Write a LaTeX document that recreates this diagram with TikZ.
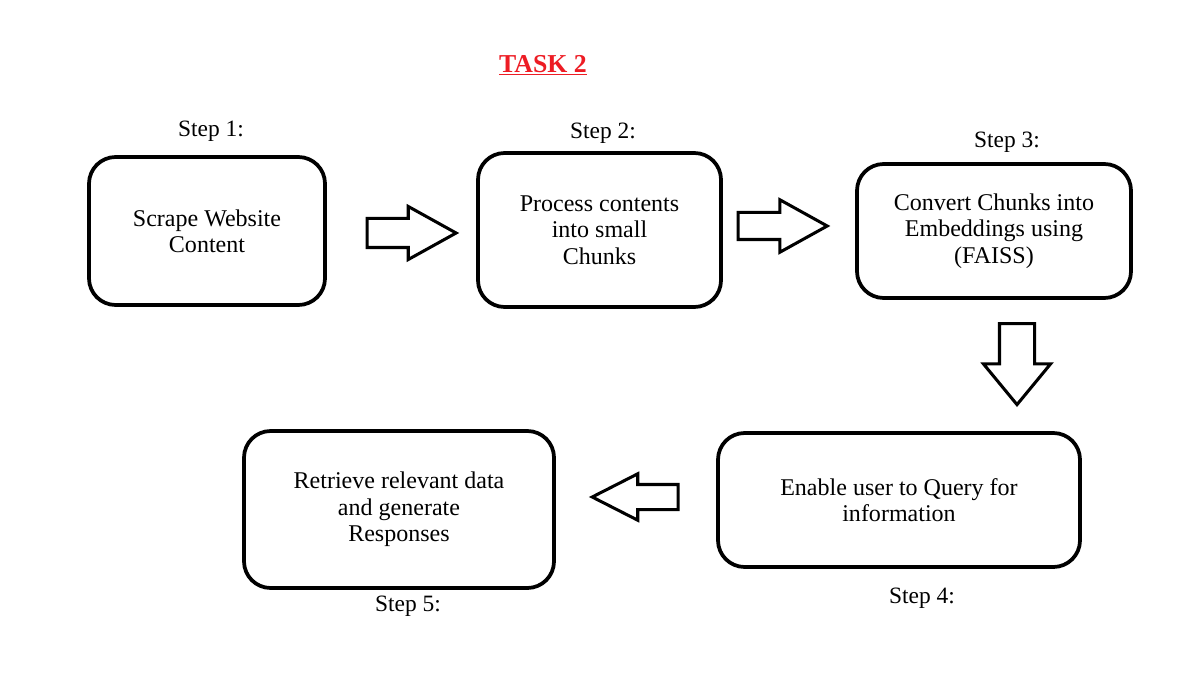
\documentclass[tikz,border=0pt]{standalone}
\usepackage{fontspec}
\setmainfont{Liberation Serif}
\usepackage{xcolor}
\usetikzlibrary{shapes.arrows}
\definecolor{taskred}{RGB}{237,28,36}

\tikzset{
  stepbox/.style={draw, line width=3.2pt, rounded corners=0.8cm, align=center,
    font=\fontsize{20.5}{22.5}\selectfont},
  steplabel/.style={font=\fontsize{20}{24}\selectfont},
  blockarrow/.style={draw, line width=2.6pt, single arrow, inner xsep=0pt,
    single arrow head indent=0pt},
}

\begin{document}
\begin{tikzpicture}[x=0.03cm, y=-0.03cm]
\useasboundingbox (0,0) rectangle (1183,683);

\node[font=\fontsize{22}{24}\selectfont\bfseries, text=taskred] (title) at (543,65) {\underline{TASK 2}};

\node[stepbox, minimum width=7.08cm, minimum height=4.44cm] (scrape) at (207,231) {Scrape Website\\Content};
\node[stepbox, minimum width=7.29cm, minimum height=4.62cm] (process) at (599.5,230) {Process contents\\into small\\Chunks};
\node[stepbox, minimum width=8.22cm, minimum height=4.02cm] (convert) at (994,231) {Convert Chunks into\\Embeddings using\\(FAISS)};
\node[stepbox, minimum width=10.86cm, minimum height=4.02cm] (query) at (899,500) {Enable user to Query for\\information};
\node[stepbox, minimum width=9.3cm, minimum height=4.71cm] (retrieve) at (399,509.5) {Retrieve relevant data\\and generate\\Responses};

\node[steplabel] (s1) at (211,131) {Step 1:};
\node[steplabel] (s2) at (603,133) {Step 2:};
\node[steplabel] (s3) at (1007,142) {Step 3:};
\node[steplabel] (s4) at (922,598) {Step 4:};
\node[steplabel] (s5) at (408,606) {Step 5:};

% block arrows between the steps
\node[blockarrow, minimum height=2.67cm, inner ysep=0.39cm,
  single arrow head extend=0.36cm, single arrow tip angle=58] (a12) at (398.5,233) {};
\node[blockarrow, minimum height=2.67cm, inner ysep=0.36cm,
  single arrow head extend=0.38cm, single arrow tip angle=58] (a23) at (770.5,226) {};
\node[blockarrow, rotate=-90, minimum height=2.43cm, inner ysep=0.48cm,
  single arrow head extend=0.48cm, single arrow tip angle=79] (a34) at (1017,353.5) {};
\node[blockarrow, rotate=180, minimum height=2.58cm, inner ysep=0.33cm,
  single arrow head extend=0.32cm, single arrow tip angle=54] (a45) at (647.5,497) {};
\end{tikzpicture}
\end{document}
